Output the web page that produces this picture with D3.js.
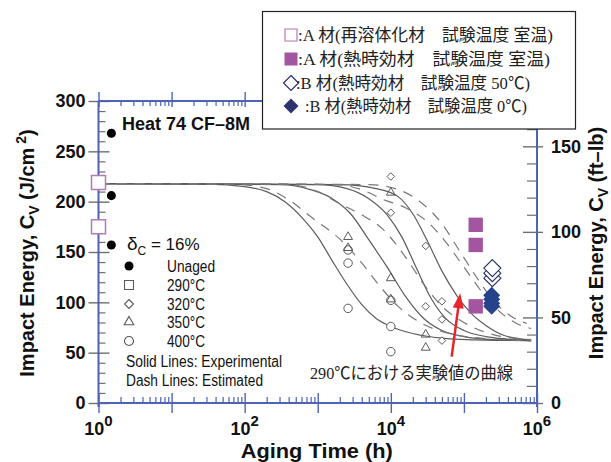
<!DOCTYPE html>
<html>
<head>
<meta charset="utf-8">
<script src="https://cdn.jsdelivr.net/npm/d3@7/dist/d3.min.js"></script>
<style>
  body { margin: 0; background: #fff; }
  svg { display: block; }
</style>
</head>
<body>
<svg id="chart" width="611" height="462"></svg>
<script>
// ---- data (Charpy impact energy, J/cm^2, vs. aging time in hours) ----
const unagedHours = [1.5, 1.5, 1.5];
const unagedCv = [268, 206, 157];

// A material, re-solution treated, room temperature test (plotted at t = 1 h)
const aSolutionHours = [1, 1];
const aSolutionCv = [219, 175];
// A material, thermally aged, room temperature test
const aAgedHours = [145000, 145000, 145000];
const aAgedCv = [177, 157, 96];
// B material, thermally aged, tested at 50 C
const b50Hours = [245000, 245000, 245000];
const b50Cv = [124, 129, 134];
// B material, thermally aged, tested at 0 C
const b0Hours = [240000, 240000, 240000, 240000];
const b0Cv = [107, 103, 99, 96];

// Aged specimens of Heat 74
const aged320Hours = [10000, 10000, 30000, 30000, 50000, 50000, 50000];
const aged320Cv = [225, 189, 156, 96, 101, 83, 62];
const aged350Hours = [10000, 2600, 2600, 10000, 10000, 30000, 30000];
const aged350Cv = [209, 165, 154, 124, 103, 68, 55];
const aged400Hours = [2600, 2600, 2600, 10000, 10000, 10000];
const aged400Cv = [152, 139, 94, 102, 76, 51];

// Curves: log10(hours) and Cv
const solid400LogT = [0, 1.5, 2.0, 2.3, 2.55, 2.8, 3.0, 3.2, 3.4, 3.6, 3.8, 4.0, 4.3, 4.7, 5.3, 5.92];
const solid400Cv   = [218, 217.5, 215, 210, 200, 183, 165, 141, 118, 98, 84, 76, 69, 64.5, 62.5, 62];
const solid350LogT = [0, 2.5, 2.9, 3.2, 3.45, 3.7, 3.95, 4.2, 4.45, 4.7, 5.0, 5.4, 5.92];
const solid350Cv   = [218, 217, 212, 203, 188, 162, 135, 106, 84, 72, 66, 63, 62];
const solid320LogT = [0, 3.0, 3.4, 3.7, 3.95, 4.15, 4.35, 4.55, 4.75, 5.0, 5.3, 5.6, 5.92];
const solid320Cv   = [218, 217, 213, 203, 187, 165, 134, 104, 84, 72, 66, 63.5, 62];
const solid290LogT = [0, 3.3, 3.8, 4.1, 4.3, 4.5, 4.7, 4.9, 5.1, 5.3, 5.55, 5.8, 5.92];
const solid290Cv   = [218, 217, 213, 205, 188, 161, 131, 107, 89, 77, 67, 63.5, 62.5];

const dash400LogT = [0, 1.8, 2.3, 2.6, 2.94, 3.3, 3.58, 3.85, 4.1, 4.4, 4.8, 5.3, 5.92];
const dash400Cv   = [218, 217.5, 213, 202, 183, 163, 141, 116, 96, 80, 69, 64, 62];
const dash350LogT = [0, 2.6, 3.0, 3.3, 3.6, 3.9, 4.2, 4.45, 4.7, 5.0, 5.4, 5.92];
const dash350Cv   = [218, 217, 210, 198, 187, 172, 145, 118, 96, 80, 68, 63];
const dash320LogT = [0, 3.2, 3.6, 3.9, 4.2, 4.5, 4.75, 5.0, 5.25, 5.5, 5.75, 5.92];
const dash320Cv   = [218, 217, 212, 202, 194, 180, 160, 135, 110, 90, 78, 74];
const dash290LogT = [0, 3.7, 4.1, 4.4, 4.7, 4.95, 5.2, 5.45, 5.65, 5.86];
const dash290Cv   = [218, 217, 212, 200, 178, 150, 122, 98, 86, 79];

// Axis ticks
const leftMajor = [0, 50, 100, 150, 200, 250, 300];
const leftMinor = [10, 20, 30, 40, 60, 70, 80, 90, 110, 120, 130, 140, 160, 170, 180, 190, 210, 220, 230, 240, 260, 270, 280, 290];
const rightMajor = [0, 50, 100, 150];
const rightMinor = [10, 20, 30, 40, 60, 70, 80, 90, 110, 120, 130, 140, 160, 170];
const decades = [1, 10, 100, 1000, 10000, 100000, 1000000];
const labelledDecades = [1, 100, 10000, 1000000];
const labelExponents = ["0", "2", "4", "6"];
const xMinor = [];
decades.slice(0, -1).forEach(d => { for (let k = 2; k <= 9; k++) xMinor.push(d * k); });
const jPerFtLb = 1.7;

const legendRows = [
  ":A 材(再溶体化材　試験温度 室温)",
  ":A 材(熱時効材　試験温度 室温)",
  ":B 材(熱時効材　試験温度 50℃)",
  ":B 材(熱時効材　試験温度 0℃)"
];
const keyLabels = ["Unaged", "290°C", "320°C", "350°C", "400°C"];
const keyWidths = [48, 38, 38, 38, 38];

// ---- layout ----
const svg = d3.select("#chart");
const x = d3.scaleLog().domain([1, 1e6]).range([98.5, 537]);
const y = d3.scaleLinear().domain([0, 300]).range([403, 101]);
const yR = d3.scaleLinear().domain([0, 300 / jPerFtLb]).range([403, 101]);

const blue = "#4d63b6";
const tickGrey = "#6f6f6f";
const markGrey = "#5a5a5a";
const boldFont = "'Liberation Sans', Arial, Helvetica, sans-serif";
const jpFont = "'Liberation Serif', 'Noto Sans CJK JP', serif";

function styleTicks(g, color, width) {
  g.select(".domain").remove();
  g.selectAll(".tick line").attr("stroke", color).attr("stroke-width", width);
}

// left axis
svg.append("g").attr("transform", `translate(${x(1)},0)`)
  .call(d3.axisLeft(y).tickValues(leftMajor).tickSize(10).tickPadding(3).tickFormat(d3.format("d")))
  .call(g => styleTicks(g, tickGrey, 1.4))
  .call(g => g.selectAll("text").attr("font-family", boldFont).attr("font-weight", "bold")
    .attr("font-size", 18).attr("fill", "#111"));
svg.append("g").attr("transform", `translate(${x(1)},0)`)
  .call(d3.axisRight(y).tickValues(leftMajor).tickSize(11).tickFormat(""))
  .call(g => styleTicks(g, tickGrey, 1.4));
svg.append("g").attr("transform", `translate(${x(1)},0)`)
  .call(d3.axisRight(y).tickValues(leftMinor).tickSize(7).tickFormat(""))
  .call(g => styleTicks(g, tickGrey, 1.2));

// right axis (ft-lb)
svg.append("g").attr("transform", `translate(${x(1e6)},0)`)
  .call(d3.axisRight(yR).tickValues(rightMajor).tickSize(6).tickPadding(8).tickFormat(d3.format("d")))
  .call(g => styleTicks(g, tickGrey, 1.4))
  .call(g => g.selectAll("text").attr("font-family", boldFont).attr("font-weight", "bold")
    .attr("font-size", 18).attr("fill", "#111"));
svg.append("g").attr("transform", `translate(${x(1e6)},0)`)
  .call(d3.axisLeft(yR).tickValues(rightMajor).tickSize(14).tickFormat(""))
  .call(g => styleTicks(g, tickGrey, 1.4));
svg.append("g").attr("transform", `translate(${x(1e6)},0)`)
  .call(d3.axisLeft(yR).tickValues(rightMinor).tickSize(10).tickFormat(""))
  .call(g => styleTicks(g, tickGrey, 1.2));

// bottom axis
svg.append("g").attr("transform", `translate(0,${y(0)})`)
  .call(d3.axisBottom(x).tickValues(decades).tickSize(10).tickFormat(""))
  .call(g => styleTicks(g, blue, 1.4));
svg.append("g").attr("transform", `translate(0,${y(0)})`)
  .call(d3.axisTop(x).tickValues(decades).tickSize(10).tickFormat(""))
  .call(g => styleTicks(g, blue, 1.4));
svg.append("g").attr("transform", `translate(0,${y(0)})`)
  .call(d3.axisTop(x).tickValues(xMinor).tickSize(6).tickFormat(""))
  .call(g => styleTicks(g, blue, 1.2));

// top axis
svg.append("g").attr("transform", `translate(0,${y(300)})`)
  .call(d3.axisTop(x).tickValues(decades).tickSize(9).tickFormat(""))
  .call(g => styleTicks(g, blue, 1.4));
svg.append("g").attr("transform", `translate(0,${y(300)})`)
  .call(d3.axisBottom(x).tickValues(decades).tickSize(6).tickFormat(""))
  .call(g => styleTicks(g, blue, 1.4));
svg.append("g").attr("transform", `translate(0,${y(300)})`)
  .call(d3.axisBottom(x).tickValues(xMinor).tickSize(5).tickFormat(""))
  .call(g => styleTicks(g, blue, 1.2));

// frame lines
const frame = svg.append("g").attr("stroke", blue).attr("stroke-width", 2).attr("fill", "none");
frame.append("line").attr("x1", x(1)).attr("x2", x(1e6)).attr("y1", y(0)).attr("y2", y(0));
frame.append("line").attr("x1", x(1)).attr("x2", x(1e6)).attr("y1", y(300)).attr("y2", y(300));
frame.append("line").attr("x1", x(1)).attr("x2", x(1)).attr("y1", y(0) + 4).attr("y2", y(300));
frame.append("line").attr("x1", x(1e6)).attr("x2", x(1e6)).attr("y1", y(0) + 4).attr("y2", y(300));

// decade labels 10^n
labelledDecades.forEach((d, i) => {
  const t = svg.append("text").attr("x", x(d)).attr("y", 435)
    .attr("text-anchor", "middle").attr("font-family", boldFont).attr("font-weight", "bold")
    .attr("font-size", 18).attr("fill", "#111");
  t.append("tspan").text("10");
  t.append("tspan").attr("dy", -9).attr("font-size", 15).text(labelExponents[i]);
});

// axis titles
svg.append("text").attr("x", x(1000) - 1).attr("y", 458).attr("text-anchor", "middle")
  .attr("font-family", boldFont).attr("font-weight", "bold").attr("font-size", 20)
  .attr("textLength", 152).attr("lengthAdjust", "spacingAndGlyphs")
  .attr("fill", "#111").text("Aging Time (h)");

function cvTitle(cx, cy, unit, sup) {
  const t = svg.append("text").attr("transform", `translate(${cx},${cy}) rotate(-90)`)
    .attr("text-anchor", "middle").attr("font-family", boldFont).attr("font-weight", "bold")
    .attr("font-size", 20).attr("fill", "#111");
  t.append("tspan").text("Impact Energy,  C");
  t.append("tspan").attr("dy", 5).attr("font-size", 14).text("V");
  t.append("tspan").attr("dy", -5).text(" (" + unit);
  if (sup) {
    t.append("tspan").attr("dy", -8).attr("font-size", 14).text(" " + sup);
    t.append("tspan").attr("dy", 8).text(")");
  } else {
    t.append("tspan").text(")");
  }
}
cvTitle(34, 253, "J/cm", "2");
cvTitle(603, 243, "ft\u2013lb", null);

// curves
const line = d3.line().x(d => x(Math.pow(10, d[0]))).y(d => y(d[1])).curve(d3.curveMonotoneX);
const curves = svg.append("g").attr("fill", "none").attr("stroke", "#5c5c5c").attr("stroke-width", 1.2);
[[solid400LogT, solid400Cv], [solid350LogT, solid350Cv], [solid320LogT, solid320Cv], [solid290LogT, solid290Cv]]
  .forEach(([lt, cv]) => curves.append("path").attr("d", line(d3.zip(lt, cv))));
[[dash400LogT, dash400Cv], [dash350LogT, dash350Cv], [dash320LogT, dash320Cv], [dash290LogT, dash290Cv]]
  .forEach(([lt, cv]) => curves.append("path").attr("stroke", "#777").attr("stroke-dasharray", "10,8")
    .attr("d", line(d3.zip(lt, cv))));

// symbol generators
const sym = (type, size) => d3.symbol().type(type).size(size)();
function diamondPath(r) { return `M0,${-r}L${r},0L0,${r}L${-r},0Z`; }

function plotMarks(hours, cv, path, attrs) {
  const g = svg.append("g");
  d3.zip(hours, cv).forEach(([h, v]) => {
    const p = g.append("path").attr("d", path).attr("transform", `translate(${x(h)},${y(v)})`);
    Object.entries(attrs).forEach(([k, val]) => p.attr(k, val));
  });
}

const openGrey = { fill: "#fff", stroke: markGrey, "stroke-width": 1 };
plotMarks(aged400Hours, aged400Cv, sym(d3.symbolCircle, 56), openGrey);
plotMarks(aged350Hours, aged350Cv, sym(d3.symbolTriangle, 34), { fill: "none", stroke: markGrey, "stroke-width": 1 });
plotMarks(aged320Hours, aged320Cv, diamondPath(3.8), openGrey);
plotMarks(unagedHours, unagedCv, sym(d3.symbolCircle, 64), { fill: "#000" });

// A / B material results
plotMarks(aSolutionHours, aSolutionCv, "M-7,-7h14v14h-14Z", { fill: "#fff", stroke: "#b57ab5", "stroke-width": 1.5 });
plotMarks(aAgedHours, aAgedCv, "M-7.2,-7.2h14.4v14.4h-14.4Z", { fill: "#a4559f" });
plotMarks(b50Hours, b50Cv, diamondPath(8.5), { fill: "#fff", stroke: "#2a2e66", "stroke-width": 1.1 });
plotMarks(b0Hours, b0Cv, diamondPath(8.5), { fill: "#25428a" });

// in-plot key
const keyX = 129;
const keyY = [266, 285, 304, 322, 341];
const keyShapes = [
  { d: sym(d3.symbolCircle, 64), fill: "#000", stroke: "none" },
  { d: "M-4.5,-4.5h9v9h-9Z", fill: "#fff", stroke: markGrey },
  { d: diamondPath(4.5), fill: "#fff", stroke: markGrey },
  { d: sym(d3.symbolTriangle, 40), fill: "#fff", stroke: markGrey },
  { d: sym(d3.symbolCircle, 64), fill: "#fff", stroke: markGrey }
];
function narrowText(xp, yp, w, str) {
  return svg.append("text").attr("x", xp).attr("y", yp).attr("font-family", boldFont)
    .attr("font-size", 16).attr("fill", "#111")
    .attr("textLength", w).attr("lengthAdjust", "spacingAndGlyphs").text(str);
}
keyShapes.forEach((s, i) => {
  svg.append("path").attr("d", s.d).attr("transform", `translate(${keyX},${keyY[i]})`)
    .attr("fill", s.fill).attr("stroke", s.stroke).attr("stroke-width", 1.1);
  narrowText(167, keyY[i] + 6, keyWidths[i], keyLabels[i]);
});
narrowText(126, 367, 156, "Solid Lines: Experimental");
narrowText(126, 386, 137, "Dash Lines: Estimated");
const delta = svg.append("text").attr("x", 127).attr("y", 250).attr("font-family", boldFont)
  .attr("font-size", 17).attr("fill", "#111");
delta.append("tspan").attr("font-size", 19).text("\u03b4");
delta.append("tspan").attr("dy", 5).attr("font-size", 12).text("C");
delta.append("tspan").attr("dy", -5).text(" = 16%");

svg.append("text").attr("x", 122).attr("y", 130).attr("font-family", boldFont).attr("font-weight", "bold")
  .attr("font-size", 18).attr("fill", "#111").text("Heat 74 CF\u20138M");

// annotation arrow
const arrowFrom = [68000, 46];
const arrowTo = [89000, 109];
const ax1 = x(arrowFrom[0]), ay1 = y(arrowFrom[1]), ax2 = x(arrowTo[0]), ay2 = y(arrowTo[1]);
const ang = Math.atan2(ay2 - ay1, ax2 - ax1) * 180 / Math.PI;
svg.append("line").attr("x1", ax1).attr("y1", ay1).attr("x2", ax2 - 12 * Math.cos(ang * Math.PI / 180))
  .attr("y2", ay2 - 12 * Math.sin(ang * Math.PI / 180))
  .attr("stroke", "#e8242c").attr("stroke-width", 2.5);
svg.append("path").attr("d", "M0,0L-15,-5.5L-15,5.5Z").attr("fill", "#e8242c")
  .attr("transform", `translate(${ax2},${ay2}) rotate(${ang})`);
svg.append("text").attr("x", 310).attr("y", 379).attr("font-family", jpFont)
  .attr("font-size", 17).attr("textLength", 203).attr("lengthAdjust", "spacingAndGlyphs")
  .attr("fill", "#222").text("290℃における実験値の曲線");

// material legend box
const box = svg.append("g");
box.append("rect").attr("x", 262.5).attr("y", 11.5).attr("width", 313).attr("height", 117.5)
  .attr("fill", "#fff").attr("stroke", "#222").attr("stroke-width", 1.2);
const rowY = [35, 59, 83, 106];
const rowEnd = [553, 550, 530, 527];
const rowStart = [298, 298, 296, 305];
const rowShapes = [
  { d: "M-6,-6h12v12h-12Z", fill: "#fff", stroke: "#b57ab5" },
  { d: "M-6.5,-6.5h13v13h-13Z", fill: "#a4559f", stroke: "none" },
  { d: diamondPath(7.5), fill: "#fff", stroke: "#2a2e66" },
  { d: diamondPath(7.5), fill: "#2d3270", stroke: "none" }
];
rowShapes.forEach((s, i) => {
  box.append("path").attr("d", s.d).attr("transform", `translate(291,${rowY[i]})`)
    .attr("fill", s.fill).attr("stroke", s.stroke).attr("stroke-width", 1.2);
  box.append("text").attr("x", rowStart[i]).attr("y", rowY[i] + 6).attr("font-family", jpFont)
    .attr("font-size", 17).attr("fill", "#222")
    .attr("textLength", rowEnd[i] - rowStart[i]).attr("lengthAdjust", "spacingAndGlyphs")
    .text(legendRows[i]);
});
</script>
</body>
</html>
